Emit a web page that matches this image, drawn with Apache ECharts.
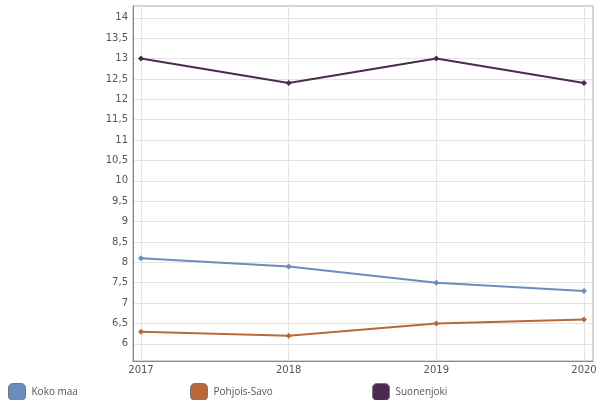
<!DOCTYPE html>
<html><head><meta charset="utf-8">
<script src="https://cdn.jsdelivr.net/npm/echarts@6/dist/echarts.min.js"></script>
<style>html,body{margin:0;padding:0;background:#fff}#c{width:596px;height:400px}</style>
</head><body><div id="c"></div>
<script>
const categories = ['2017', '2018', '2019', '2020'];
const kokoMaa = [8.1, 7.9, 7.5, 7.3];
const pohjoisSavo = [6.3, 6.2, 6.5, 6.6];
const suonenjoki = [13.0, 12.4, 13.0, 12.4];
const seriesNames = ['Koko maa', 'Pohjois-Savo', 'Suonenjoki'];
const yTicks = [6, 6.5, 7, 7.5, 8, 8.5, 9, 9.5, 10, 10.5, 11, 11.5, 12, 12.5, 13, 13.5, 14];
const yMin = 5.58, yMax = 14.29;

const colors = ['#6b8cbe', '#b8693a', '#4b2a4f'];
const chart = echarts.init(document.getElementById('c'), null, {renderer: 'canvas'});
const values = [kokoMaa, pohjoisSavo, suonenjoki];
const legendLeft = [8, 190, 372];
chart.setOption({
  animation: false,
  grid: [
    {left: 141, right: 12, top: 6, bottom: 39, outerBoundsMode: 'none', containLabel: false},
    {left: 133, right: 3, top: 6, bottom: 39, outerBoundsMode: 'none', containLabel: false,
     show: true, borderColor: '#aaa', borderWidth: 1, backgroundColor: 'transparent'}
  ],
  xAxis: [
    {gridIndex: 0, type: 'category', data: categories, boundaryGap: false,
     axisLine: {show: false}, axisTick: {show: false},
     axisLabel: {color: '#555', fontFamily: 'DejaVu Sans', fontSize: 10, margin: 4},
     splitLine: {show: true, lineStyle: {color: '#e4e4e4', width: 1}}},
    {gridIndex: 1, type: 'value', min: 0, max: 1, axisLabel: {show: false}, axisTick: {show: false},
     splitLine: {show: false}, axisLine: {show: true, lineStyle: {color: '#888', width: 1}}}
  ],
  yAxis: [
    {gridIndex: 0, type: 'value', min: yMin, max: yMax, show: false, splitLine: {show: false}},
    {gridIndex: 1, type: 'value', min: yMin, max: yMax,
     axisLine: {show: true, lineStyle: {color: '#888', width: 1}},
     axisTick: {show: false, customValues: yTicks},
     axisLabel: {customValues: yTicks, color: '#555', fontFamily: 'DejaVu Sans', fontSize: 10, margin: 5,
       formatter: v => String(v).replace('.', ',')},
     splitLine: {show: true, lineStyle: {color: '#e4e4e4', width: 1}}}
  ],
  legend: seriesNames.map((n, i) => ({
    data: [n], left: legendLeft[i], top: 383, icon: 'roundRect', itemWidth: 17, itemHeight: 17,
    itemGap: 0, padding: 0, selectedMode: false,
    itemStyle: {borderColor: '#777', borderWidth: 1},
    textStyle: {color: '#555', fontFamily: 'Open Sans', fontSize: 10, padding: [0, 0, 0, 1]}
  })),
  series: seriesNames.map((n, i) => ({
    name: n, type: 'line', xAxisIndex: 0, yAxisIndex: 0, data: values[i],
    symbol: 'diamond', symbolSize: 6, color: colors[i],
    lineStyle: {width: 2, color: colors[i]}, itemStyle: {color: colors[i]}
  }))
});
</script></body></html>
